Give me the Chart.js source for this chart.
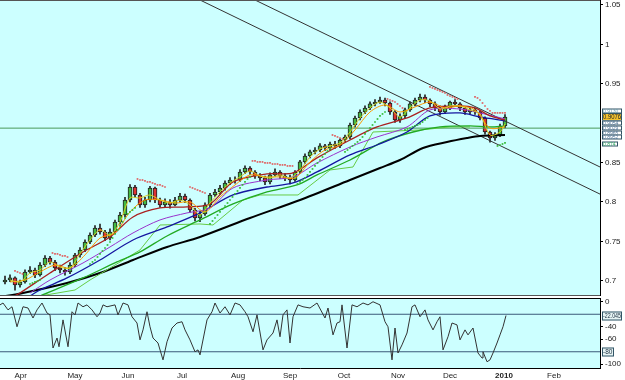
<!DOCTYPE html>
<html>
<head>
<meta charset="utf-8">
<script src="https://cdn.jsdelivr.net/npm/chart.js@4.4.0/dist/chart.umd.min.js"></script>
<style>
  html, body { margin: 0; padding: 0; background: #fff; }
  #wrap { position: relative; width: 625px; height: 380px; overflow: hidden; }
  #priceBox { position: absolute; left: 0; top: 0; width: 625px; height: 296px; }
  #oscBox { position: absolute; left: 0; top: 297px; width: 625px; height: 83px; }
</style>
</head>
<body>
<div id="wrap">
  <div id="priceBox"><canvas id="priceChart"></canvas></div>
  <div id="oscBox"><canvas id="oscChart"></canvas></div>
</div>
<script>
// x values are trading days counted from mid March 2009 (one candle = 2 days)
const monthDays = [8.3, 30, 51.2, 72.8, 95.2, 116, 137.6, 159.2, 180, 201.6, 221.6];
const monthLabels = ['Apr', 'May', 'Jun', 'Jul', 'Aug', 'Sep', 'Oct', 'Nov', 'Dec', '2010', 'Feb'];
const priceTicks = [0.7, 0.75, 0.8, 0.85, 0.95, 1, 1.05];
const wrTicks = [0, -40, -60, -100];

const candleDays = [2,4,6,8,10,12,14,16,18,20, 22,24,26,28,30,32,34,36,38,40,
  42,44,46,48,50,52,54,56,58,60, 62,64,66,68,70,72,74,76,78,80,
  82,84,86,88,90,92,94,96,98,100, 102,104,106,108,110,112,114,116,118,120,
  122,124,126,128,130,132,134,136,138,140, 142,144,146,148,150,152,154,156,158,160,
  162,164,166,168,170,172,174,176,178,180, 182,184,186,188,190,192,194,196,198,200, 202];
const opens = [.6985,.7010,.7036,.6947,.6985,.7112,.7137,.7074,.7200,.7289,
  .7239,.7162,.7137,.7112,.7200,.7327,.7391,.7492,.7581,.7670,
  .7619,.7543,.7619,.7746,.7835,.8025,.8190,.8089,.7962,.8025,
  .8178,.8025,.7962,.8000,.7962,.8025,.8076,.8025,.7898,.7797,
  .7848,.7962,.8089,.8127,.8178,.8241,.8279,.8279,.8381,.8431,
  .8381,.8330,.8305,.8254,.8343,.8381,.8330,.8305,.8279,.8381,
  .8508,.8584,.8635,.8660,.8711,.8685,.8736,.8711,.8787,.8825,
  .8977,.9066,.9142,.9193,.9244,.9269,.9294,.9256,.9142,.9041,
  .9091,.9168,.9244,.9294,.9332,.9294,.9244,.9193,.9142,.9193,
  .9269,.9244,.9193,.9142,.9168,.9142,.9066,.8888,.8812,.8850, .8964];
const highs = [.7060,.7075,.7050,.7010,.7140,.7180,.7160,.7230,.7320,.7310,
  .7260,.7200,.7170,.7230,.7350,.7420,.7520,.7610,.7700,.7720,
  .7640,.7660,.7770,.7870,.8060,.8220,.8210,.8110,.8060,.8200,
  .8190,.8050,.8040,.8030,.8060,.8110,.8100,.8040,.7920,.7880,
  .7990,.8110,.8160,.8210,.8270,.8310,.8320,.8410,.8460,.8450,
  .8400,.8360,.8330,.8370,.8420,.8400,.8360,.8340,.8400,.8530,
  .8610,.8660,.8690,.8740,.8730,.8760,.8770,.8800,.8850,.9000,
  .9090,.9170,.9220,.9270,.9300,.9330,.9320,.9270,.9160,.9120,
  .9190,.9270,.9320,.9370,.9360,.9310,.9270,.9220,.9230,.9280,
  .9300,.9260,.9210,.9200,.9190,.9160,.9080,.8900,.8880,.8990, .9110];
const lows = [.6960,.6990,.6880,.6920,.6970,.7090,.7040,.7060,.7180,.7210,
  .7130,.7100,.7070,.7090,.7180,.7300,.7370,.7470,.7560,.7590,
  .7510,.7520,.7600,.7720,.7810,.8000,.8060,.7930,.7930,.8000,
  .7990,.7930,.7940,.7920,.7950,.8000,.7990,.7870,.7760,.7750,
  .7830,.7940,.8070,.8100,.8150,.8220,.8240,.8260,.8360,.8350,
  .8300,.8270,.8220,.8230,.8320,.8300,.8270,.8230,.8260,.8360,
  .8490,.8560,.8610,.8640,.8650,.8660,.8680,.8690,.8760,.8800,
  .8950,.9040,.9120,.9170,.9220,.9250,.9220,.9110,.9010,.9010,
  .9070,.9150,.9220,.9270,.9260,.9210,.9160,.9100,.9120,.9170,
  .9210,.9160,.9110,.9120,.9110,.9040,.8860,.8760,.8780,.8830, .8940];
const closes = [.7010,.7036,.6947,.6985,.7112,.7137,.7074,.7200,.7289,.7239,
  .7162,.7137,.7112,.7200,.7327,.7391,.7492,.7581,.7670,.7619,
  .7543,.7619,.7746,.7835,.8025,.8190,.8089,.7962,.8025,.8178,
  .8025,.7962,.8000,.7962,.8025,.8076,.8025,.7898,.7797,.7848,
  .7962,.8089,.8127,.8178,.8241,.8279,.8279,.8381,.8431,.8381,
  .8330,.8305,.8254,.8343,.8381,.8330,.8305,.8279,.8381,.8508,
  .8584,.8635,.8660,.8711,.8685,.8736,.8711,.8787,.8825,.8977,
  .9066,.9142,.9193,.9244,.9269,.9294,.9256,.9142,.9041,.9091,
  .9168,.9244,.9294,.9332,.9294,.9244,.9193,.9142,.9193,.9269,
  .9244,.9193,.9142,.9168,.9142,.9066,.8888,.8812,.8850,.8964, .9076];

// moving averages
const yellowDays = [4,8,12,16,20,24,28,32,36,40, 44,48,52,56,60,64,68,72,76,80,
  84,88,92,96,100,104,108,112,116,120, 124,128,132,136,140,144,148,152,156,160,
  164,168,172,176,180,184,188,192,196,200, 202];
const yellowVals = [.7010,.6985,.7099,.7137,.7239,.7175,.7163,.7341,.7518,.7645,
  .7581,.7746,.8051,.8051,.8089,.8025,.7987,.8025,.7962,.7835,
  .7987,.8127,.8241,.8318,.8394,.8330,.8305,.8343,.8305,.8406,
  .8571,.8673,.8711,.8749,.8888,.9066,.9193,.9269,.9193,.9079,
  .9193,.9294,.9282,.9180,.9218,.9218,.9168,.9117,.8850,.8888, .8990];
const orangeDays = [4,10,16,22,28,34,40,46,52,58, 64,70,76,82,88,94,100,106,112,118,
  124,130,136,142,148,154,160,166,172,178, 184,190,196,202];
const orangeVals = [.6985,.7010,.7112,.7200,.7163,.7328,.7543,.7607,.7874,.8025,
  .8025,.7987,.8000,.7874,.8064,.8216,.8343,.8318,.8318,.8305,
  .8508,.8660,.8723,.8914,.9142,.9231,.9142,.9206,.9269,.9193,
  .9218,.9168,.8939,.8952];
const redDays = [6,8,20,33.2,44,53.2,64,74.8,84,93.2,106.8,117.2,126.8,140,150.8,162.8,172,184,190,196,202];
const redVals = [.6810,.6845,.7099,.7366,.7556,.7810,.7924,.7937,.7975,.8254,.8356,.8368,.8559,.8787,.8952,.9066,.9193,.9218,.9193,.9092,.9041];
const purpleDays = [12,20,33.2,44,53.2,64,74.8,84,93.2,106.8,117.2,126.8,140,150.8,162.8,172,184,192,202];
const purpleVals = [.6845,.7010,.7226,.7429,.7607,.7772,.7861,.7924,.8178,.8279,.8318,.8495,.8698,.8825,.8952,.9168,.9180,.9130,.9054];
const blueDays = [12,16,26.8,40,53.2,66.8,80,93.2,106.8,117.2,126.8,140,150.8,162.8,172,184,192,202];
const blueVals = [.6807,.6883,.7036,.7264,.7518,.7683,.7861,.8089,.8190,.8241,.8381,.8597,.8723,.8888,.9092,.9130,.9079,.9029];
const greenDays = [16,33.2,46.8,56,66.8,80,93.2,106.8,118.8,126.8,140,153.2,165.2,176,188,196,202];
const greenVals = [.6807,.7036,.7239,.7366,.7569,.7772,.7975,.8127,.8216,.8343,.8533,.8762,.8888,.8952,.8965,.8952,.8965];
const stopDays = [16,30,36,46,56,64,80,85.2,97.2,104,119.2,132,141.2,149.2,168,180,188];
const stopVals = [.6807,.6883,.7010,.7200,.7391,.7708,.7721,.7708,.8025,.8089,.8089,.8406,.8444,.8888,.8914,.8952,.8952];
const longDays = [0,9.2,26.8,40,53.2,66.8,80,100,120,140,152,160,169.2,178.8,186.8,192,202];
const longVals = [.6794,.6845,.6972,.7099,.7264,.7429,.7556,.7797,.8025,.8279,.8431,.8533,.8685,.8761,.8812,.8838,.8850];

// parabolic SAR dots
const sarRedDays = [6,7,8,9, 21,22,23,24,25,26,27,
  55,56,57,58,59,60,61,62,63,64,65,66, 76,77,78,79,80,81,82,
  101,102,103,104,105,106,107,108,109,110,111,112,113,114,115,116,117,
  133,134,135,136,137, 155,156,157,158,159,160,161,
  172,173,174,175,176,177,178,179,180,181,182,183,
  190,191,192,193,194,195,196,197,198,199,200,201,202];
const sarRedVals = [.7125,.7112,.7099,.7087, .7353,.7341,.7341,.7328,.7315,.7315,.7302,
  .8292,.8279,.8279,.8267,.8254,.8254,.8241,.8229,.8216,.8216,.8203,.8190,
  .8190,.8178,.8165,.8152,.8140,.8127,.8114,
  .8521,.8521,.8508,.8508,.8508,.8495,.8495,.8495,.8482,.8482,.8482,.8470,.8470,.8470,.8457,.8457,.8457,
  .8850,.8838,.8825,.8812,.8800, .9307,.9294,.9282,.9269,.9244,.9218,.9193,
  .9460,.9447,.9434,.9421,.9409,.9396,.9383,.9358,.9345,.9333,.9320,.9307,
  .9333,.9320,.9294,.9256,.9218,.9180,.9155,.9130,.9130,.9130,.9130,.9130,.9130];
const sarGreenDays = [12,13,14,15,16,
  36,37,38,39,40,41,42,43,44,45,46,47,48,49,50,51,52,53,54,
  84,85,86,87,88,89,90,91,92,93,94,95,96,97,98,99,100,
  119,120,121,122,123,124,125,126,127,128,129,130,131,132,
  138,139,140,141,142,143,144,145,146,147,148,149,150,151,152,153,154,
  162,163,164,165,166,167,168,169,170,171, 199,200,201,202];
const sarGreenVals = [.6959,.6972,.6985,.6997,.7010,
  .7213,.7239,.7264,.7302,.7341,.7378,.7416,.7454,.7492,.7543,.7594,.7645,.7696,.7746,.7797,.7848,.7874,.7898,.7924,
  .7721,.7759,.7797,.7835,.7874,.7911,.7949,.7987,.8025,.8064,.8102,.8140,.8178,.8216,.8254,.8292,.8318,
  .8229,.8254,.8279,.8305,.8343,.8381,.8419,.8457,.8495,.8533,.8571,.8609,.8647,.8673,
  .8635,.8660,.8685,.8711,.8736,.8762,.8787,.8825,.8863,.8901,.8939,.8977,.9015,.9053,.9092,.9117,.9142,
  .8914,.8927,.8939,.8952,.8965,.8977,.8990,.9015,.9041,.9066, .8711,.8723,.8736,.8749];

// drawn trend channel and support level
const trendLowerDays = [80, 240];
const trendLowerVals = [1.0563, 0.8100];
const trendUpperDays = [102, 240];
const trendUpperVals = [1.0563, 0.8444];
const levelDays = [0, 240];
const levelVals = [0.8937, 0.8937];

// price labels on the right edge
const sideBoxValues = [0.9149, 0.9079, 0.8996, 0.8933, 0.8869, 0.8819, 0.8742];
const sideBoxTexts = ['0.9130', '0.9076', '0.9054', '0.9029', '0.8965', '0.8952', '0.874'];

// Williams %R
const wrDays = [0,1.2,3.2,4.8,6.8,9.2,11.2,13.2,14.8,16.8,
  18.8,20,21.2,22.8,23.6,25.2,27.2,28.8,30,31.2,
  33.2,34.8,36.8,38.8,40,41.2,42.8,46,47.2,49.2,
  51.2,52.8,54.8,56,57.2,58.8,60,61.2,63.2,65.2,
  66.8,68.8,70.8,72.8,74,76,78,79.2,80,82.8,
  84.8,86,88,90,92,94,96,98,99.2,101.2,
  102.8,105.2,106.8,109.2,110.8,112,113.2,114.8,116,117.2,
  119.2,121.2,124,126.8,130,131.2,133.2,134.8,136,136.8,
  138.8,140.8,142.8,145.2,147.2,149.2,152,154,155.2,156.8,
  158,159.2,160.8,162.8,164.8,166,168,170,171.2,173.2,
  174.8,176,177.2,179.2,180.8,182.8,184,186,187.2,189.2,
  191.2,192.8,193.2,194.8,196,197.2,198.8,200,201.2,202.4];
const wrValues = [-5,-2,-13,-8,-40,-8,-10,-26,-13,-2,
  -18,-21,-74,-58,-72,-29,-72,-16,-21,-2,
  -8,-5,-13,-24,-18,-5,-8,-5,-21,-2,
  -5,-24,-34,-61,-45,-16,-40,-58,-66,-93,
  -64,-42,-34,-32,-45,-61,-80,-77,-85,-29,
  -16,-2,-18,-8,-21,-2,-5,-16,-24,-48,
  -21,-77,-61,-50,-29,-56,-21,-13,-66,-24,
  -5,-8,-10,-2,-26,-10,-53,-34,-32,-5,
  -74,-5,-8,-2,-5,0,-5,-32,-40,-93,
  -42,-82,-69,-50,-8,-5,-24,-13,-29,-45,
  -32,-24,-77,-56,-34,-37,-61,-45,-53,-42,
  -82,-90,-80,-96,-93,-82,-66,-53,-40,-22.045];
const wrLevels = [-20, -80];
const wrBoxValues = [-22.045, -80];
const wrBoxTexts = ['-22.045', '-80'];

// ---- styles ----
const PLOT_BG = '#CCFFFF';
const UP = '#44BB44', DOWN = '#DD3333';
const sideBoxFills = ['#FFFFFF', '#F2C230', '#FFFFFF', '#FFFFFF', '#FFFFFF', '#FFFFFF', '#FFFFFF'];
const sideBoxInks = ['#6699AA', '#222222', '#557799', '#557799', '#557799', '#557799', '#33AA66'];

Chart.defaults.font.family = "'Liberation Sans', Arial, sans-serif";
Chart.defaults.animation = false;

const pts = (xs, ys) => xs.map((x, i) => ({ x: x, y: ys[i] }));

function maLine(days, vals, color, width, tension) {
  return { type: 'line', data: pts(days, vals), borderColor: color, borderWidth: width,
    pointRadius: 0, pointHoverRadius: 0, tension: tension, fill: false, order: 2 };
}
function thinLine(days, vals, color) {
  return { type: 'line', data: pts(days, vals), borderColor: color, borderWidth: 1,
    pointRadius: 0, pointHoverRadius: 0, tension: 0, fill: false, order: 5 };
}
function dots(days, vals, color) {
  return { type: 'line', data: pts(days, vals), showLine: false, pointStyle: 'rect',
    pointRadius: 1.2, pointHoverRadius: 0, pointBorderWidth: 0, pointBackgroundColor: color, order: 1 };
}

const panelPlugin = {
  id: 'panel',
  beforeDraw(chart) {
    const a = chart.chartArea, c = chart.ctx;
    c.save();
    c.fillStyle = PLOT_BG;
    c.fillRect(a.left, a.top, a.right - a.left, a.bottom - a.top);
    c.restore();
  },
  afterDraw(chart) {
    const a = chart.chartArea, c = chart.ctx;
    const isPrice = chart.canvas.id === 'priceChart';
    c.save();
    c.strokeStyle = isPrice ? '#555' : '#000';
    c.lineWidth = 1;
    c.beginPath();
    c.moveTo(a.left, a.top + 0.5); c.lineTo(a.right, a.top + 0.5);
    if (isPrice) { c.moveTo(a.left, a.bottom - 0.5); c.lineTo(a.right, a.bottom - 0.5); }
    c.stroke();
    const vals = isPrice ? sideBoxValues : wrBoxValues;
    const texts = isPrice ? sideBoxTexts : wrBoxTexts;
    const ys = chart.scales.y;
    c.textBaseline = 'middle';
    vals.forEach((v, i) => {
      const py = Math.round(ys.getPixelForValue(v));
      let h, w, fill, ink;
      if (isPrice) {
        h = i === 1 ? 8 : 5; w = i === 6 ? 16 : 20;
        fill = sideBoxFills[i]; ink = sideBoxInks[i];
        c.font = (i === 1 ? '7px' : '5px') + " 'Liberation Sans', Arial";
      } else {
        h = 9; w = i === 0 ? 20 : 12; fill = '#E6F4F4'; ink = '#223344';
        c.font = "6.5px 'Liberation Sans', Arial";
      }
      const x0 = a.right + 2;
      c.fillStyle = fill;
      c.fillRect(x0, py - h / 2, w, h);
      c.strokeStyle = '#335566';
      c.strokeRect(x0 + 0.5, py - h / 2 + 0.5, w - 1, h - 1);
      c.fillStyle = ink;
      c.fillText(texts[i], x0 + 1, py + 0.5, w - 2);
    });
    c.restore();
  }
};

function rightAxis(min, max, ticks) {
  return {
    position: 'right', min: min, max: max,
    afterBuildTicks: s => { s.ticks = ticks.map(v => ({ value: v })); },
    ticks: { font: { size: 8 }, color: '#222', padding: 2, callback: v => String(v) },
    grid: { drawOnChartArea: false, drawTicks: true, tickLength: 3, color: '#000' },
    border: { display: true, color: '#000' },
    afterFit: s => { s.width = 25; s.paddingTop = 0; s.paddingBottom = 0; }
  };
}

new Chart(document.getElementById('priceChart'), {
  type: 'bar',
  data: {
    datasets: [
      dots(sarRedDays, sarRedVals, '#E06060'),
      dots(sarGreenDays, sarGreenVals, '#33BB33'),
      maLine(yellowDays, yellowVals, '#D8D020', 1, 0.3),
      maLine(orangeDays, orangeVals, '#FF9900', 1, 0.3),
      maLine(redDays, redVals, '#AA2020', 1.3, 0.3),
      maLine(purpleDays, purpleVals, '#9933CC', 1, 0.3),
      maLine(blueDays, blueVals, '#1515A0', 1.3, 0.3),
      maLine(greenDays, greenVals, '#22AA22', 1.3, 0.3),
      maLine(stopDays, stopVals, '#66CC44', 1, 0),
      maLine(longDays, longVals, '#000000', 2, 0.3),
      thinLine(trendLowerDays, trendLowerVals, '#333333'),
      thinLine(trendUpperDays, trendUpperVals, '#333333'),
      thinLine(levelDays, levelVals, '#4A9A5A'),
      { type: 'bar', data: candleDays.map((d, i) => ({ x: d, y: [opens[i], closes[i]] })),
        backgroundColor: closes.map((c, i) => c >= opens[i] ? UP : DOWN),
        borderColor: '#222', borderWidth: 1, borderSkipped: false,
        barThickness: 4, grouped: false, order: 11 },
      { type: 'bar', data: candleDays.map((d, i) => ({ x: d, y: [lows[i], highs[i]] })),
        backgroundColor: '#222', barThickness: 1, grouped: false, order: 12 }
    ]
  },
  options: {
    responsive: true, maintainAspectRatio: false,
    layout: { padding: 0, autoPadding: false },
    plugins: { legend: { display: false }, tooltip: { enabled: false } },
    scales: {
      x: { type: 'linear', min: 0, max: 240, offset: false, display: false },
      y: rightAxis(0.6807, 1.0563, priceTicks)
    }
  },
  plugins: [panelPlugin]
});

new Chart(document.getElementById('oscChart'), {
  type: 'line',
  data: {
    datasets: [
      { data: pts(wrDays, wrValues), borderColor: '#333', borderWidth: 1, pointRadius: 0, pointHoverRadius: 0, tension: 0 },
      ...wrLevels.map(l => ({ data: pts([0, 240], [l, l]), borderColor: '#3A5A7A', borderWidth: 1, pointRadius: 0, pointHoverRadius: 0 }))
    ]
  },
  options: {
    responsive: true, maintainAspectRatio: false,
    layout: { padding: { top: 1 }, autoPadding: false },
    plugins: { legend: { display: false }, tooltip: { enabled: false } },
    scales: {
      x: {
        type: 'linear', min: 0, max: 240, offset: false,
        afterBuildTicks: s => { s.ticks = monthDays.map(v => ({ value: v })); },
        ticks: {
          autoSkip: false, maxRotation: 0, padding: 3, color: '#222',
          font: ctx => ({ size: 8, weight: monthLabels[ctx.index] === '2010' ? 'bold' : 'normal' }),
          callback: (v, i) => monthLabels[i]
        },
        grid: { display: false, drawTicks: false },
        border: { display: true, color: '#000' },
        afterFit: s => { s.height = 12; s.paddingLeft = 0; s.paddingRight = 0; }
      },
      y: rightAxis(-106, 6, wrTicks)
    }
  },
  plugins: [panelPlugin]
});
</script>
</body>
</html>
